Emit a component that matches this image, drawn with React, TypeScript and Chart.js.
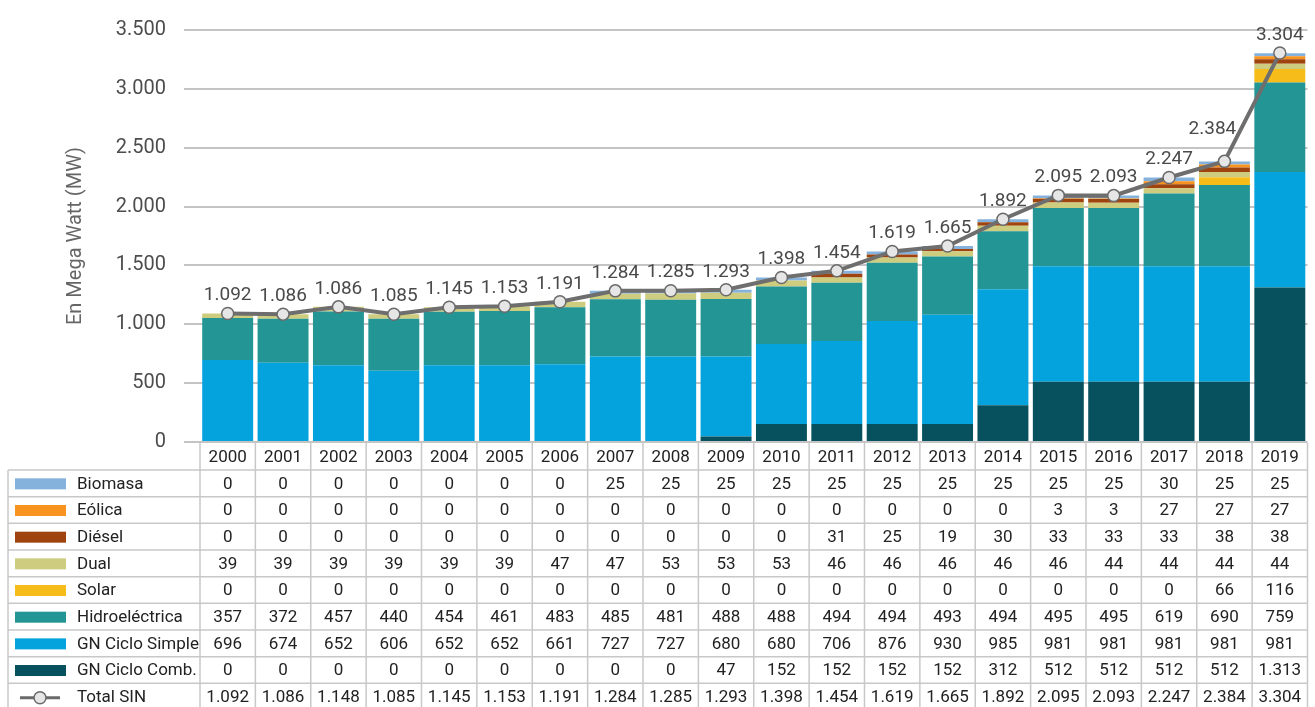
import React, { useEffect, useRef } from "react";
import { Chart, registerables } from "chart.js";

Chart.register(...registerables);

const years = ["2000","2001","2002","2003","2004","2005","2006","2007","2008","2009","2010","2011","2012","2013","2014","2015","2016","2017","2018","2019"];
const biomasa = [0,0,0,0,0,0,0,25,25,25,25,25,25,25,25,25,25,30,25,25];
const eolica = [0,0,0,0,0,0,0,0,0,0,0,0,0,0,0,3,3,27,27,27];
const diesel = [0,0,0,0,0,0,0,0,0,0,0,31,25,19,30,33,33,33,38,38];
const dual = [39,39,39,39,39,39,47,47,53,53,53,46,46,46,46,46,44,44,44,44];
const solar = [0,0,0,0,0,0,0,0,0,0,0,0,0,0,0,0,0,0,66,116];
const hidro = [357,372,457,440,454,461,483,485,481,488,488,494,494,493,494,495,495,619,690,759];
const gnSimple = [696,674,652,606,652,652,661,727,727,680,680,706,876,930,985,981,981,981,981,981];
const gnComb = [0,0,0,0,0,0,0,0,0,47,152,152,152,152,312,512,512,512,512,1313];
const totalSIN = [1092,1086,1148,1085,1145,1153,1191,1284,1285,1293,1398,1454,1619,1665,1892,2095,2093,2247,2384,3304];
const totalLabels = ["1.092","1.086","1.086","1.085","1.145","1.153","1.191","1.284","1.285","1.293","1.398","1.454","1.619","1.665","1.892","2.095","2.093","2.247","2.384","3.304"];
const yTicks = [0,500,1000,1500,2000,2500,3000,3500];

const FONT = "Roboto";
const fmt = (v: number) => v.toLocaleString("de-DE");

const series = [
  { label: "Biomasa", data: biomasa, color: "#84B2DC" },
  { label: "Eólica", data: eolica, color: "#F7931E" },
  { label: "Diésel", data: diesel, color: "#A0440F" },
  { label: "Dual", data: dual, color: "#CECC7E" },
  { label: "Solar", data: solar, color: "#F6BC19" },
  { label: "Hidroeléctrica", data: hidro, color: "#239595" },
  { label: "GN Ciclo Simple", data: gnSimple, color: "#05A3DE" },
  { label: "GN Ciclo Comb.", data: gnComb, color: "#07505E" },
];

const tablePlugin = {
  id: "dataTable",
  afterDatasetsDraw(chart: any) {
    const ctx = chart.ctx;
    const lineIdx = chart.data.datasets.length - 1;
    const meta = chart.getDatasetMeta(lineIdx);
    ctx.save();
    ctx.font = `19px ${FONT}`;
    ctx.fillStyle = "#4a4a4a";
    ctx.textAlign = "center";
    ctx.textBaseline = "middle";
    meta.data.forEach((pt: any, i: number) => {
      let dx = 0, dy = -18;
      if (i === 18) { dx = -12; dy = -32; }
      ctx.fillText(totalLabels[i], pt.x + dx, pt.y + dy);
    });
    ctx.restore();
  },
  afterDraw(chart: any) {
    const ctx = chart.ctx;
    const ca = chart.chartArea;
    const xs = chart.scales.x;
    const n = years.length;
    const w = (ca.right - ca.left) / n;
    const headTop = ca.bottom + 1;
    const rowTop = ca.bottom + 28;
    const rh = 26.67;
    const nRows = series.length + 1;
    const bottom = rowTop + nRows * rh;
    const tableLeft = 8;
    ctx.save();
    ctx.strokeStyle = "#c8c8c8";
    ctx.lineWidth = 1.5;
    for (let r = 0; r <= nRows; r++) {
      const y = rowTop + r * rh;
      ctx.beginPath();
      ctx.moveTo(tableLeft, y);
      ctx.lineTo(ca.right, y);
      ctx.stroke();
    }
    for (let i = 0; i <= n; i++) {
      const x = ca.left + i * w;
      ctx.beginPath();
      ctx.moveTo(x, headTop);
      ctx.lineTo(x, bottom);
      ctx.stroke();
    }
    ctx.beginPath();
    ctx.moveTo(tableLeft, rowTop);
    ctx.lineTo(tableLeft, bottom);
    ctx.stroke();

    ctx.fillStyle = "#222";
    ctx.font = `17px ${FONT}`;
    ctx.textAlign = "center";
    ctx.textBaseline = "middle";
    years.forEach((yr, i) => {
      ctx.fillText(yr, xs.getPixelForValue(i), (headTop + rowTop) / 2 + 1);
    });
    const rows = [...series.map((s) => ({ label: s.label, data: s.data, color: s.color })), { label: "Total SIN", data: totalSIN, color: null as any }];
    rows.forEach((row, r) => {
      const cy = rowTop + r * rh + rh / 2 + 1;
      if (row.color) {
        ctx.fillStyle = row.color;
        ctx.fillRect(15, cy - 6, 51, 11);
      } else {
        ctx.strokeStyle = "#6a6a6a";
        ctx.lineWidth = 3;
        ctx.beginPath();
        ctx.moveTo(20, cy);
        ctx.lineTo(60, cy);
        ctx.stroke();
        ctx.beginPath();
        ctx.arc(40, cy, 6, 0, Math.PI * 2);
        ctx.fillStyle = "#e6e6e6";
        ctx.fill();
        ctx.lineWidth = 1.5;
        ctx.stroke();
      }
      ctx.fillStyle = "#222";
      ctx.textAlign = "left";
      ctx.fillText(row.label, 77, cy);
      ctx.textAlign = "center";
      row.data.forEach((v: number, i: number) => {
        ctx.fillText(fmt(v), xs.getPixelForValue(i), cy);
      });
    });
    ctx.restore();
  },
};

export default function App() {
  const ref = useRef<HTMLCanvasElement>(null);
  useEffect(() => {
    if (!ref.current) return;
    const barSets = [...series].reverse().map((s) => ({
      type: "bar" as const,
      label: s.label,
      data: s.data,
      backgroundColor: s.color,
      borderWidth: 0,
      barPercentage: 0.92,
      categoryPercentage: 1,
      stack: "gen",
      order: 2,
    }));
    const chart = new Chart(ref.current, {
      type: "bar",
      data: {
        labels: years,
        datasets: [
          ...barSets,
          {
            type: "line" as const,
            label: "Total SIN",
            data: totalSIN,
            borderColor: "#6e6e6e",
            borderWidth: 4,
            pointRadius: 6,
            pointBackgroundColor: "#e6e6e6",
            pointBorderColor: "#6a6a6a",
            pointBorderWidth: 1.5,
            stack: "total",
            order: 0,
          } as any,
        ],
      },
      options: {
        responsive: false,
        animation: false,
        layout: { padding: { left: 0, right: 0, top: 26, bottom: 265 } },
        plugins: { legend: { display: false }, tooltip: { enabled: false } },
        scales: {
          x: { display: false, stacked: true },
          y: {
            stacked: true,
            min: 0,
            max: 3500,
            afterFit: (s: any) => { s.width = 200; },
            afterBuildTicks: (s: any) => { s.ticks = yTicks.map((v) => ({ value: v })); },
            ticks: {
              padding: 18,
              color: "#4d4d4d",
              font: { family: FONT, size: 20 },
              callback: (v: any) => fmt(Number(v)),
            },
            grid: { color: "#c4c4c4", lineWidth: 2, tickLength: 16, drawTicks: true },
            border: { display: false },
            title: {
              display: true,
              text: "En Mega Watt (MW)",
              color: "#666",
              font: { family: FONT, size: 20 },
              padding: { top: 64, bottom: 0 },
            },
          },
        },
      },
      plugins: [tablePlugin],
    });
    return () => chart.destroy();
  }, []);
  return (
    <div style={{ position: "fixed", left: 0, top: 0, width: 1315, height: 707, background: "#fff" }}>
      <canvas ref={ref} width={1315} height={707} style={{ display: "block" }} />
    </div>
  );
}
